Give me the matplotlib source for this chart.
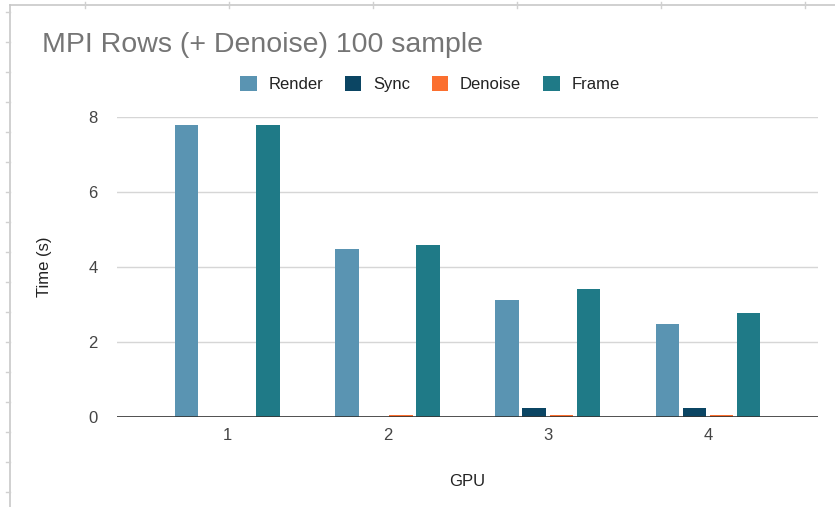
import numpy as np
import matplotlib.pyplot as plt
from matplotlib.lines import Line2D

# Timings per GPU count (seconds)
gpus = ["1", "2", "3", "4"]
render = [7.78, 4.48, 3.13, 2.48]
sync = [0.0, 0.0, 0.24, 0.24]
denoise = [0.0, 0.07, 0.07, 0.07]
frame = [7.78, 4.59, 3.42, 2.78]

series = [("Render", render, "#5a94b2"),
          ("Sync", sync, "#0b4563"),
          ("Denoise", denoise, "#fb6f2f"),
          ("Frame", frame, "#1f7a87")]

plt.rcParams["font.family"] = ["Liberation Sans", "DejaVu Sans"]

fig = plt.figure(figsize=(8.35, 5.07), dpi=100)
ax = fig.add_axes([0.140, 0.177, 0.840, 0.592])

x = np.arange(1, len(gpus) + 1)
pitch = 0.169
width = 0.146
for i, (name, vals, color) in enumerate(series):
    ax.bar(x + (i - 1.5) * pitch, vals, width, color=color, label=name, zorder=3)

ax.set_xlim(0.31, 4.69)
ax.set_ylim(0, 8)
ax.set_yticks([0, 2, 4, 6, 8])
ax.set_xticks(x)
ax.set_xticklabels(gpus)
ax.grid(axis="y", color="#d6d6d6", linewidth=1, zorder=0)
ax.axhline(0, color="#333333", linewidth=1.2, zorder=4)
for s in ax.spines.values():
    s.set_visible(False)
ax.tick_params(length=0, labelsize=12, labelcolor="#444444")
ax.tick_params(axis="y", pad=14)
ax.tick_params(axis="x", pad=8)
ax.set_xlabel("GPU", fontsize=12, color="#222222", labelpad=22)
ax.set_ylabel("Time (s)", fontsize=12, color="#222222", labelpad=26)

fig.text(0.050, 0.911, "MPI Rows (+ Denoise) 100 sample", fontsize=20.5,
         color="#757575", va="center", ha="left")

ax.legend(loc="center", bbox_to_anchor=(0.446, 1.111), ncol=4, frameon=False,
          fontsize=12, handlelength=1.0, handleheight=1.0, handletextpad=0.7,
          columnspacing=1.3, labelcolor="#222222")

# spreadsheet frame behind the chart
W, H = 835, 507
fig.add_artist(Line2D([10 / W, 1], [1 - 5 / H, 1 - 5 / H], color="#c8c8c8", lw=1.2))
fig.add_artist(Line2D([10 / W, 10 / W], [0, 1 - 5 / H], color="#c8c8c8", lw=1.2))
for yy in range(12, H, 30):
    fig.add_artist(Line2D([6 / W, 10 / W], [1 - yy / H] * 2, color="#d0d0d0", lw=1))
for xx in range(85, W, 144):
    fig.add_artist(Line2D([xx / W] * 2, [1 - 2 / H, 1 - 8 / H], color="#d0d0d0", lw=1))

fig.savefig("out.png", dpi=100)
